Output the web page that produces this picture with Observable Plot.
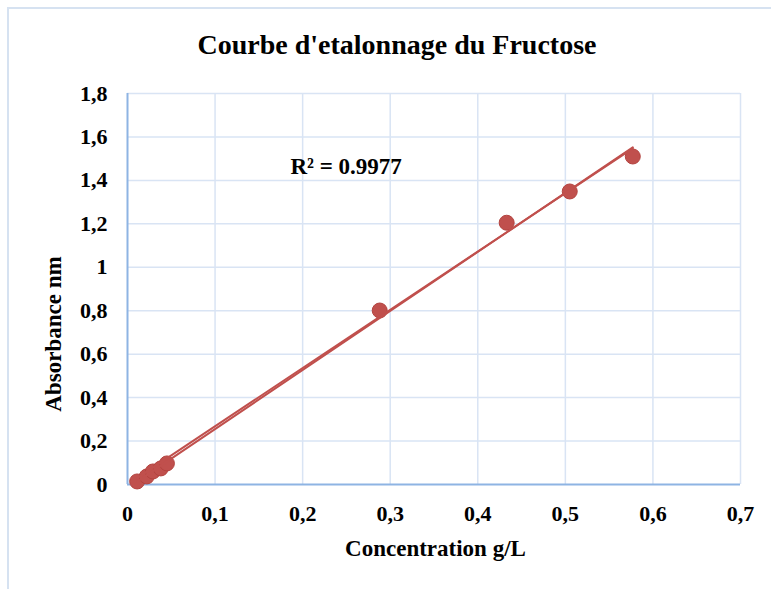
<!DOCTYPE html>
<html>
<head>
<meta charset="utf-8">
<script src="https://cdn.jsdelivr.net/npm/d3@7"></script>
<script src="https://cdn.jsdelivr.net/npm/@observablehq/plot@0.6"></script>
<style>
  html, body { margin: 0; padding: 0; background: #fff; }
  #wrap { position: relative; width: 771px; height: 589px; overflow: hidden; font-family: "Liberation Serif", "Times New Roman", serif; }
  #frame { position: absolute; left: 7px; top: 7px; width: 900px; height: 900px; border-left: 2px solid #D6E2F1; border-top: 2px solid #D6E2F1; }
  #title { position: absolute; left: 23px; width: 748px; top: 31px; text-align: center; font-size: 28px; line-height: 28px; font-weight: bold; color: #000; }
  #chart { position: absolute; left: 0; top: 70px; }
  #chart svg, #chart svg text { font-family: "Liberation Serif", "Times New Roman", serif !important; }
</style>
</head>
<body>
<div id="wrap">
  <div id="frame"></div>
  <div id="title">Courbe d'etalonnage du Fructose</div>
  <div id="chart"></div>
</div>
<script>
const titleText = "Courbe d'etalonnage du Fructose";
const xLabel = "Concentration g/L";
const yLabel = "Absorbance nm";
const r2Label = "R² = 0.9977";

const concentration = [0.011, 0.022, 0.029, 0.038, 0.045, 0.288, 0.433, 0.505, 0.577];
const absorbance   = [0.014, 0.037, 0.060, 0.074, 0.097, 0.801, 1.205, 1.349, 1.510];

const xTicks = [0, 0.1, 0.2, 0.3, 0.4, 0.5, 0.6, 0.7];
const yTicks = [0, 0.2, 0.4, 0.6, 0.8, 1, 1.2, 1.4, 1.6, 1.8];

const data = concentration.map((c, i) => ({x: c, y: absorbance[i]}));

// Trend lines fitted from the data: least squares, and least squares through the origin
const mx = d3.mean(concentration), my = d3.mean(absorbance);
const sxy = d3.sum(data, d => (d.x - mx) * (d.y - my));
const sxx = d3.sum(data, d => (d.x - mx) ** 2);
const slope = sxy / sxx, intercept = my - slope * mx;
const slope0 = d3.sum(data, d => d.x * d.y) / d3.sum(data, d => d.x * d.x);
const [xmin, xmax] = d3.extent(concentration);
const fit1 = [xmin, xmax].map(x => ({x, y: intercept + slope * x}));
const fit2 = [xmin, xmax].map(x => ({x, y: slope0 * x}));

const fmt = d => String(d).replace(".", ",");
const red = "#C0504D";
const serif = "Liberation Serif";

const plot = Plot.plot({
  width: 771,
  height: 519,
  marginLeft: 127,
  marginRight: 31,
  marginTop: 23,
  marginBottom: 105,
  style: { fontFamily: serif, color: "#000", background: "transparent" },
  x: { domain: [0, 0.7] },
  y: { domain: [0, 1.8] },
  marks: [
    Plot.gridX(xTicks.slice(1), { stroke: "#D9E4F4", strokeOpacity: 1, strokeWidth: 1.5 }),
    Plot.gridY(yTicks.slice(1), { stroke: "#D9E4F4", strokeOpacity: 1, strokeWidth: 1.5 }),
    Plot.ruleX([0], { stroke: "#8EB4E3", strokeWidth: 2 }),
    Plot.ruleY([0], { stroke: "#8EB4E3", strokeWidth: 2 }),
    Plot.axisX(xTicks, { tickSize: 0, tickPadding: 21, tickFormat: fmt, fontSize: 22, fontWeight: "bold", fontFamily: serif, label: null }),
    Plot.axisY(yTicks, { tickSize: 0, tickPadding: 20, tickFormat: fmt, fontSize: 22, fontWeight: "bold", fontFamily: serif, label: null }),
    Plot.dot(data, { x: "x", y: "y", r: 7.5, fill: red, stroke: "#B3433F", strokeWidth: 1 }),
    Plot.line(fit1, { x: "x", y: "y", stroke: red, strokeWidth: 2 }),
    Plot.line(fit2, { x: "x", y: "y", stroke: red, strokeWidth: 2 }),
    Plot.text([r2Label], { frameAnchor: "top-left", textAnchor: "start", lineAnchor: "middle", dx: 163, dy: 73, fontSize: 23, fontWeight: "bold", fontFamily: serif }),
    Plot.text([yLabel], { frameAnchor: "left", textAnchor: "middle", lineAnchor: "middle", rotate: -90, dx: -74, dy: 45, fontSize: 23, fontWeight: "bold", fontFamily: serif }),
    Plot.text([xLabel], { frameAnchor: "bottom", textAnchor: "middle", lineAnchor: "middle", dx: 1.5, dy: 64, fontSize: 23, fontWeight: "bold", fontFamily: serif })
  ]
});
document.getElementById("chart").appendChild(plot);
</script>
</body>
</html>
